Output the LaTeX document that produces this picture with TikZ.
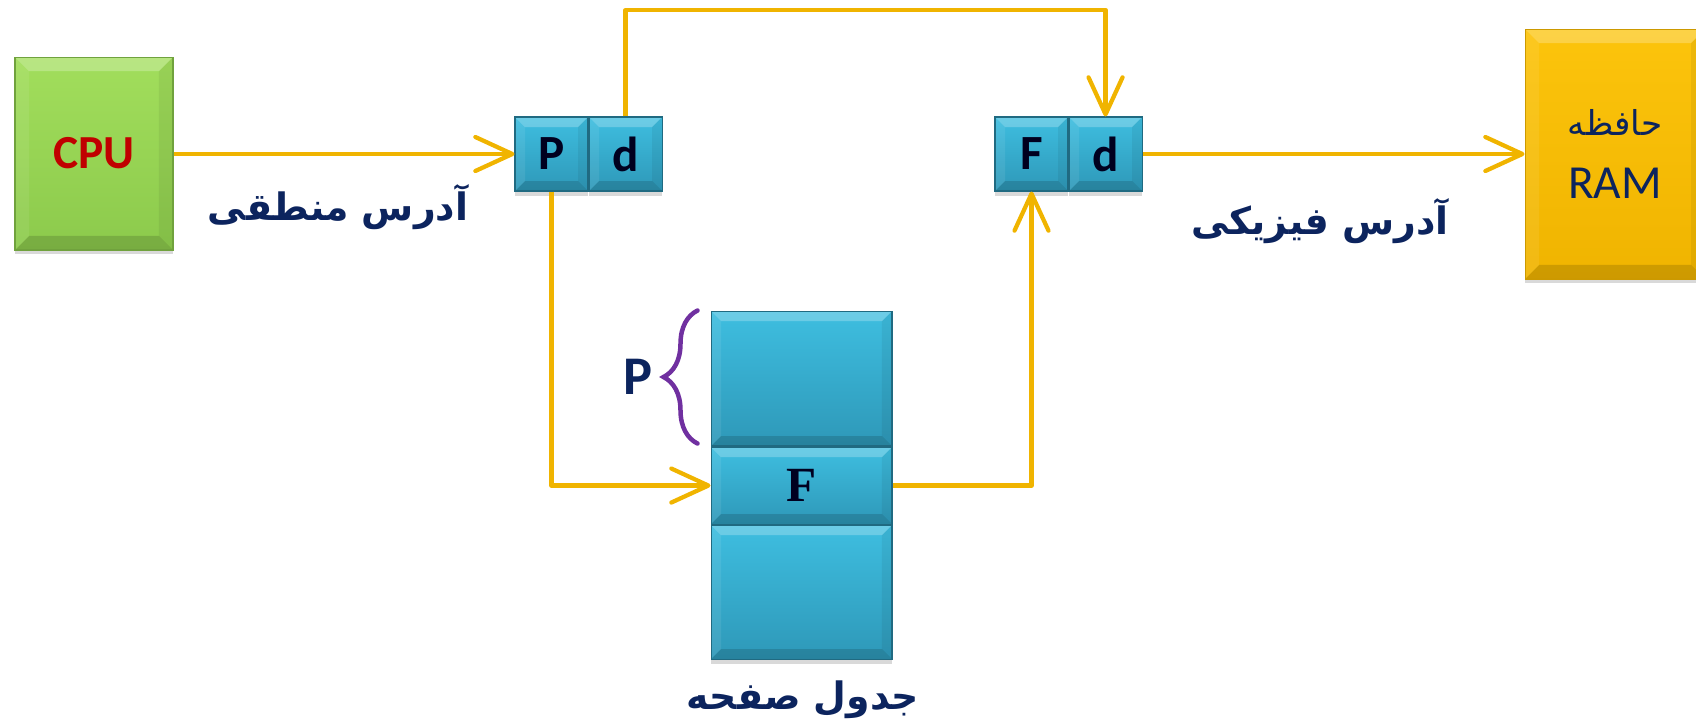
\documentclass[tikz,border=0pt]{standalone}
\usepackage{fontspec}
\setmainfont{Carlito}
\newfontfamily\arabicfont[Script=Arabic]{DejaVu Sans}
\newfontfamily\timesfont{Liberation Serif}
\TeXXeTstate=1
\usetikzlibrary{positioning}
\usetikzlibrary{arrows.meta}
\usetikzlibrary{shadows}
\usetikzlibrary{decorations.pathreplacing}

\definecolor{flowgold}{RGB}{240,180,0}
\definecolor{navytext}{RGB}{12,36,94}
\definecolor{cellblue}{RGB}{62,190,224}
\definecolor{cellbluedark}{RGB}{46,152,184}
\definecolor{cpugreen}{RGB}{162,222,92}
\definecolor{cpugreendark}{RGB}{140,202,76}
\definecolor{ramgold}{RGB}{252,196,12}
\definecolor{ramgolddark}{RGB}{240,180,0}
\definecolor{bracepurple}{RGB}{112,48,160}
\definecolor{cpured}{RGB}{192,0,0}

\begin{document}
\begin{tikzpicture}[
	x = 0.02cm, y = -0.02cm,
	bevel/.style = {
	  path picture = {
		\coordinate (bnw) at (path picture bounding box.north west);
		\coordinate (bne) at (path picture bounding box.north east);
		\coordinate (bsw) at (path picture bounding box.south west);
		\coordinate (bse) at (path picture bounding box.south east);
		\fill[white, opacity=0.24] (bnw) -- (bne) -- ([shift={(-#1,#1)}]bne) -- ([shift={(#1,#1)}]bnw) -- cycle;
		\fill[black, opacity=0.14] (bsw) -- (bse) -- ([shift={(-#1,-#1)}]bse) -- ([shift={(#1,-#1)}]bsw) -- cycle;
		\fill[black, opacity=0.06] (bne) -- (bse) -- ([shift={(-#1,-#1)}]bse) -- ([shift={(-#1,#1)}]bne) -- cycle;
		\fill[white, opacity=0.08] (bnw) -- (bsw) -- ([shift={(#1,-#1)}]bsw) -- ([shift={(#1,#1)}]bnw) -- cycle;
	  },
	},
	bevel/.default = 10,
	boxshadow/.style = {
	  drop shadow = {opacity=0.3, shadow xshift=0cm, shadow yshift=-0.09cm},
	},
	cell/.style = {
	  draw = cellbluedark!70!black, line width = 0.6pt,
	  top color = cellblue, bottom color = cellbluedark,
	  bevel, boxshadow,
	  minimum width = 1.46cm, minimum height = 1.48cm,
	  inner sep = 0pt,
	  font = \bfseries\fontsize{28}{30}\selectfont, text = black!88!blue,
	},
	tablerow/.style = {
	  cell, minimum width = 3.62cm,
	},
	flow/.style = {
	  draw = flowgold, line width = 0.085cm, line join = round,
	  -{Straight Barb[length=0.74cm, width=0.68cm, round]},
	},
	addrlabel/.style = {
	  font = \arabicfont\bfseries\fontsize{21.5}{26}\selectfont,
	  text = navytext,
	},
	brace/.style = {
	  decorate, decoration = {brace, amplitude=0.68cm},
	  draw = bracepurple, line width = 0.09cm, line cap = round,
	},
  ]
  \useasboundingbox (0,0) rectangle (1696,725);

  % processor and memory
  \node[draw=cpugreendark!80!black, line width=0.6pt,
	top color=cpugreen, bottom color=cpugreendark, bevel=14, boxshadow,
	minimum width=3.16cm, minimum height=3.86cm,
	font=\bfseries\fontsize{27}{30}\selectfont, text=cpured] (cpu) at (94,153.5) {CPU};
  \node[draw=ramgolddark!85!black, line width=0.6pt,
	top color=ramgold, bottom color=ramgolddark, bevel=14, boxshadow,
	minimum width=3.6cm, minimum height=5cm, align=center,
	font=\fontsize{27}{36}\selectfont, text=navytext] (ram) at (1615,154)
	{{\arabicfont\fontsize{19.5}{36}\selectfont\beginR حافظه\endR}\\RAM};

  % logical and physical address
  \node[cell] (pP) at (551.5,154) {P};
  \node[cell, right=0pt of pP] (pd) {d};
  \node[cell] (fF) at (1031.5,154) {F};
  \node[cell, right=0pt of fF] (fd) {d};

  % page table
  \node[tablerow, minimum height=2.7cm] (trow) at (801.5,378.5) {};
  \node[tablerow, minimum height=1.54cm, below=0pt of trow,
	font=\timesfont\bfseries\fontsize{28}{30}\selectfont] (frow) {F};
  \node[tablerow, minimum height=2.68cm, below=0pt of frow] (brow) {};

  \draw[brace] ([shift={(-13,-3)}]trow.south west) -- ([shift={(-13,0)}]trow.north west);
  \node[font=\bfseries\fontsize{31}{32}\selectfont, text=navytext] (plabel) at (638,377) {P};

  \node[addrlabel] (logical) at (338,207) {\beginR آدرس منطقی\endR};
  \node[addrlabel] (physical) at (1320,221) {\beginR آدرس فیزیکی\endR};
  \node[addrlabel] (tablelabel) at (803,700) {\beginR جدول صفحه\endR};

  \coordinate (top) at (0,10);
  \draw[flow] (cpu.east |- pP.west) -- (pP.west);
  \draw[flow] (pd.north) -- (pd.north |- top) -| (fd.north);
  \draw[flow] (pP.south) |- (frow.west);
  \draw[flow] (frow.east) -| (fF.south);
  \draw[flow] (fd.east) -- (ram.west |- fd.east);
\end{tikzpicture}
\end{document}
